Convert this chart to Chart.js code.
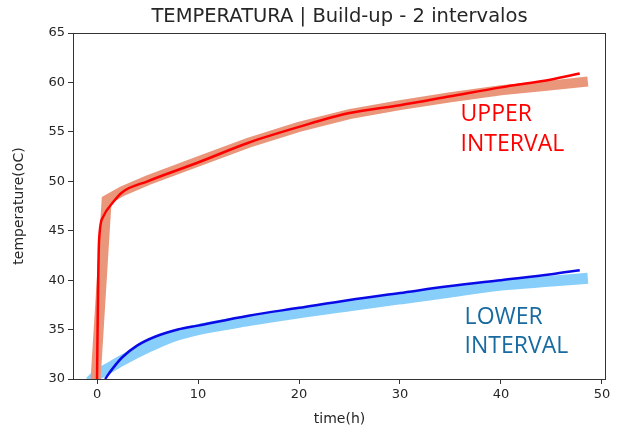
<!DOCTYPE html>
<html>
<head>
<meta charset="utf-8">
<script src="https://cdn.jsdelivr.net/npm/chart.js@4.4.1/dist/chart.umd.min.js"></script>
<style>
  html, body { margin: 0; padding: 0; background: #fff; }
  #chart { display: block; }
</style>
</head>
<body>
<canvas id="chart" width="621" height="432"></canvas>
<script>
// Values
const upperTime = [0, 0.1, 0.2, 0.6, 1.6, 2.5, 5, 10, 15, 20, 25, 30, 35, 40, 45, 47.8];
const upperTemp = [30, 39, 44, 46.4, 47.9, 48.9, 50.0, 51.9, 53.9, 55.5, 56.9, 57.7, 58.6, 59.5, 60.3, 60.9];

const upperBandTime = [-0.2, 0.95, 2.5, 5, 10, 15, 20, 25, 30, 35, 40, 45, 48.6];
const upperBandTemp = [29, 48.1, 49.0, 50.1, 52.0, 53.9, 55.5, 56.8, 57.7, 58.5, 59.2, 59.7, 60.1];

const lowerTime = [0.8, 1.5, 2.5, 4, 5.8, 8, 10, 15, 20, 25, 30, 35, 40, 45, 47.8];
const lowerTemp = [30, 31.0, 32.2, 33.4, 34.3, 35.0, 35.4, 36.4, 37.2, 38.0, 38.7, 39.4, 40.0, 40.6, 41.0];

const lowerBandTime = [-0.7, 0, 1, 2.5, 5, 7.5, 10, 15, 20, 25, 30, 35, 40, 45, 48.6];
const lowerBandTemp = [29.7, 30.4, 31.0, 31.9, 33.2, 34.3, 35.0, 35.9, 36.7, 37.4, 38.1, 38.8, 39.5, 39.9, 40.2];

const xTicks = [0, 10, 20, 30, 40, 50];
const yTicks = [30, 35, 40, 45, 50, 55, 60, 65];

const TITLE = "TEMPERATURA | Build-up - 2 intervalos";
const upperLabel = ["UPPER", "INTERVAL"];
const lowerLabel = ["LOWER", "INTERVAL"];

const toPoints = (xs, ys) => xs.map((x, i) => ({ x: x, y: ys[i] }));

const TEXT = "#262626";
const FONT = "'DejaVu Sans', sans-serif";

// Spines, title and the two interval labels
const decorations = {
  id: "decorations",
  afterDatasetsDraw(chart) {
    const { ctx, chartArea: a } = chart;
    ctx.save();
    ctx.strokeStyle = "#333";
    ctx.lineWidth = 1;
    ctx.strokeRect(a.left + 0.5, a.top + 0.5, a.right - a.left - 1, a.bottom - a.top);
    ctx.restore();
  },
  afterDraw(chart) {
    const { ctx, chartArea: a, scales } = chart;
    ctx.save();
    ctx.fillStyle = TEXT;
    ctx.font = "19.5px " + FONT;
    ctx.textAlign = "center";
    ctx.textBaseline = "middle";
    ctx.fillText(TITLE, (a.left + a.right) / 2, 17);

    ctx.textAlign = "left";
    ctx.textBaseline = "alphabetic";
    ctx.font = "23px 'Open Sans', sans-serif";
    const x = scales.x, y = scales.y;
    ctx.fillStyle = "#ff0000";
    ctx.fillText(upperLabel[0], x.getPixelForValue(36.0), y.getPixelForValue(56.1));
    ctx.fillText(upperLabel[1], x.getPixelForValue(36.0), y.getPixelForValue(53.1));
    ctx.fillStyle = "#176ba0";
    ctx.fillText(lowerLabel[0], x.getPixelForValue(36.4), y.getPixelForValue(35.6));
    ctx.fillText(lowerLabel[1], x.getPixelForValue(36.4), y.getPixelForValue(32.6));
    ctx.restore();
  },
};

new Chart(document.getElementById("chart"), {
  type: "line",
  data: {
    datasets: [
      {
        label: "upper",
        data: toPoints(upperTime, upperTemp),
        borderColor: "#ff0000",
        borderWidth: 2.5,
        pointRadius: 0,
        cubicInterpolationMode: "monotone",
        clip: 0,
      },
      {
        label: "lower",
        data: toPoints(lowerTime, lowerTemp),
        borderColor: "#0a0ae6",
        borderWidth: 2.5,
        pointRadius: 0,
        cubicInterpolationMode: "monotone",
        clip: 0,
      },
      {
        label: "upper band",
        data: toPoints(upperBandTime, upperBandTemp),
        borderColor: "#e9967a",
        borderWidth: 10,
        borderCapStyle: "butt",
        borderJoinStyle: "miter",
        pointRadius: 0,
        clip: 0,
      },
      {
        label: "lower band",
        data: toPoints(lowerBandTime, lowerBandTemp),
        borderColor: "#87cefa",
        borderWidth: 11,
        borderCapStyle: "butt",
        pointRadius: 0,
        cubicInterpolationMode: "monotone",
        clip: 0,
      },
    ],
  },
  options: {
    responsive: false,
    animation: false,
    devicePixelRatio: 1,
    layout: { padding: { top: 33, right: 15, left: 0, bottom: 0 } },
    plugins: {
      legend: { display: false },
      tooltip: { enabled: false },
      title: { display: false },
    },
    scales: {
      x: {
        type: "linear",
        min: -2.38,
        max: 50.4,
        afterBuildTicks: (scale) => { scale.ticks = xTicks.map((v) => ({ value: v })); },
        afterFit: (scale) => { scale.height = 53; },
        grid: { drawOnChartArea: false, drawTicks: true, tickLength: 5, color: "#333" },
        border: { display: false },
        ticks: { color: TEXT, font: { size: 13, family: FONT }, padding: 3, maxRotation: 0 },
        title: { display: true, text: "time(h)", color: TEXT, font: { size: 14, family: FONT }, padding: { top: 0, bottom: 4 } },
      },
      y: {
        type: "linear",
        min: 30,
        max: 65,
        afterBuildTicks: (scale) => { scale.ticks = yTicks.map((v) => ({ value: v })); },
        afterFit: (scale) => { scale.width = 73; },
        grid: { drawOnChartArea: false, drawTicks: true, tickLength: 5, color: "#333" },
        border: { display: false },
        ticks: { color: TEXT, font: { size: 13, family: FONT }, padding: 3 },
        title: { display: true, text: "temperature(oC)", color: TEXT, font: { size: 14, family: FONT }, padding: { top: 11, bottom: 0 } },
      },
    },
  },
  plugins: [decorations],
});
</script>
</body>
</html>
